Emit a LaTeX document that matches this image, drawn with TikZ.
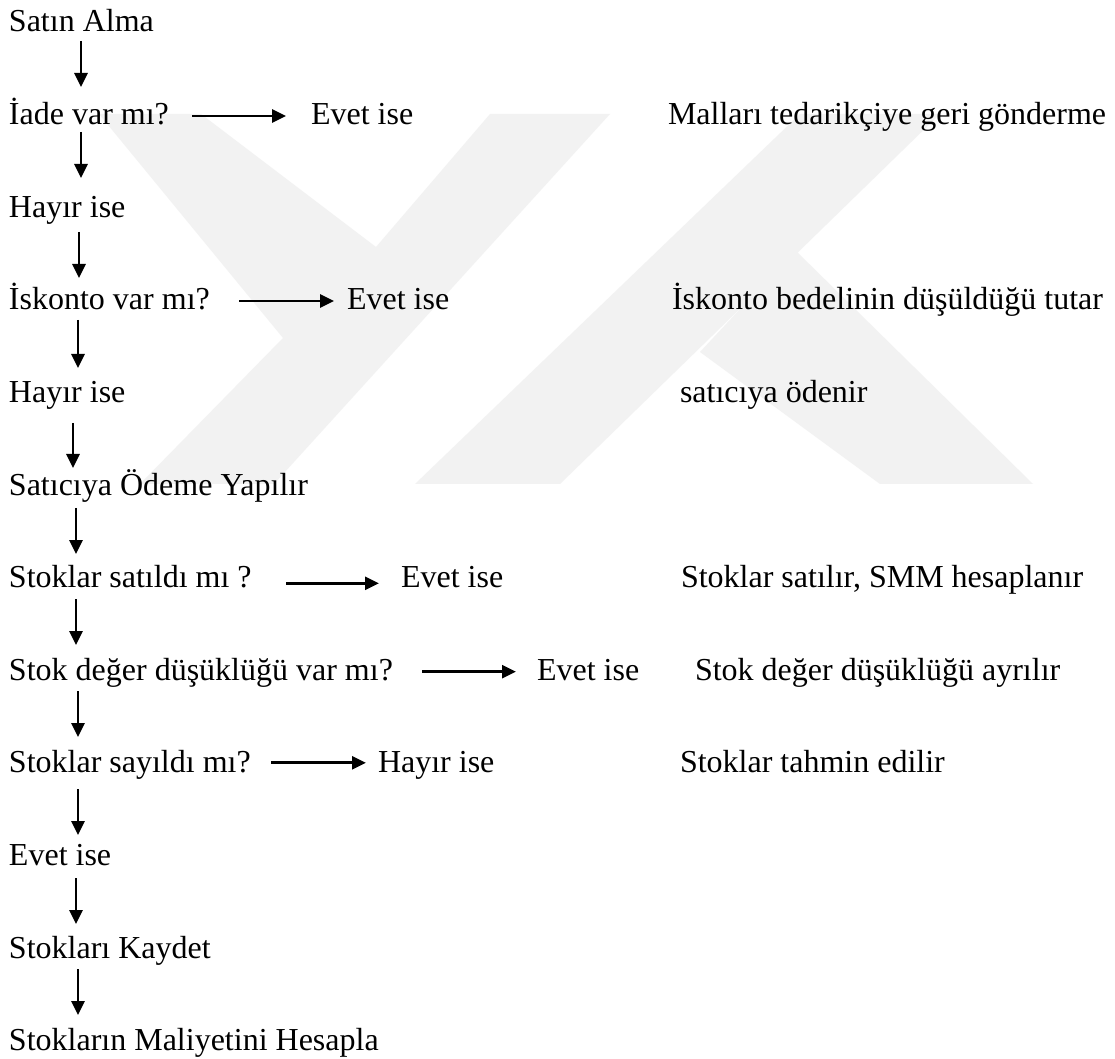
\documentclass[tikz,border=0pt]{standalone}
\usepackage{fontspec}
\setmainfont{Liberation Serif}
\usetikzlibrary{arrows.meta,calc}
\begin{document}
\begin{tikzpicture}[x=0.5pt,y=-0.5pt,
  txt/.style={anchor=base west,inner sep=0pt,outer sep=0pt,font=\fontsize{16pt}{19pt}\selectfont},
  arr/.style={line width=1.35pt,-{Triangle[length=7pt,width=6.5pt]}},
  wm/.style={fill=black!5,draw=none}]
\useasboundingbox (0,0) rectangle (1115,1059);
\fill[white] (0,0) rectangle (1115,1059);
% watermark
\fill[wm] (140,484) -- (283,338) -- (99,114) -- (201,114) -- (376,247) -- (490,114) -- (610,114) -- (274,484) -- cycle;
\fill[wm] (415,484) -- (560,484) -- (940,114) -- (800,114) -- cycle;
\fill[wm] (795,250) -- (1033,484) -- (880,484) -- (700,352) -- cycle;
% left column
\node[txt] (n0) at (9,32) {Satın Alma};
\node[txt] (n1) at (9,124.6) {İade var mı?};
\node[txt] (n2) at (9,217.2) {Hayır ise};
\node[txt] (n3) at (9,309.8) {İskonto var mı?};
\node[txt] (n4) at (9,402.4) {Hayır ise};
\node[txt] (n5) at (9,495) {Satıcıya Ödeme Yapılır};
\node[txt] (n6) at (9,587.6) {Stoklar satıldı mı ?};
\node[txt] (n7) at (9,680.2) {Stok değer düşüklüğü var mı?};
\node[txt] (n8) at (9,772.8) {Stoklar sayıldı mı?};
\node[txt] (n9) at (9,865.4) {Evet ise};
\node[txt] (n10) at (9,958) {Stokları Kaydet};
\node[txt] (n11) at (9,1050.6) {Stokların Maliyetini Hesapla};
% middle column
\node[txt] (e1) at (311,124.6) {Evet ise};
\node[txt] (e3) at (347,309.8) {Evet ise};
\node[txt] (e6) at (401,587.6) {Evet ise};
\node[txt] (e7) at (537,680.2) {Evet ise};
\node[txt] (e8) at (378,772.8) {Hayır ise};
% right column
\node[txt] (r1) at (668,124.6) {Malları tedarikçiye geri gönderme};
\node[txt] (r3) at (672,309.8) {İskonto bedelinin düşüldüğü tutar};
\node[txt] (r4) at (680,402.4) {satıcıya ödenir};
\node[txt] (r6) at (681,587.6) {Stoklar satılır, SMM hesaplanır};
\node[txt] (r7) at (695,680.2) {Stok değer düşüklüğü ayrılır};
\node[txt] (r8) at (680,772.8) {Stoklar tahmin edilir};
% vertical arrows
\draw[arr] ($(n0.base west)+(72,9)$) -- ($(n1.base west)+(72,-37.6)$);
\draw[arr] ($(n1.base west)+(72,7.4)$) -- ($(n2.base west)+(72,-39.2)$);
\draw[arr] ($(n2.base west)+(70,14.8)$) -- ($(n3.base west)+(70,-31.8)$);
\draw[arr] ($(n3.base west)+(69,10.2)$) -- ($(n4.base west)+(69,-34.4)$);
\draw[arr] ($(n4.base west)+(64,20.6)$) -- ($(n5.base west)+(64,-27)$);
\draw[arr] ($(n5.base west)+(67,13)$) -- ($(n6.base west)+(67,-33.6)$);
\draw[arr] ($(n6.base west)+(67,11.4)$) -- ($(n7.base west)+(67,-35.2)$);
\draw[arr] ($(n7.base west)+(69,10.8)$) -- ($(n8.base west)+(69,-35.8)$);
\draw[arr] ($(n8.base west)+(69,16.2)$) -- ($(n9.base west)+(69,-30.4)$);
\draw[arr] ($(n9.base west)+(67,12.6)$) -- ($(n10.base west)+(67,-34)$);
\draw[arr] ($(n10.base west)+(69,11)$) -- ($(n11.base west)+(69,-35.6)$);
% horizontal arrows
\draw[arr] ($(n1.base west)+(183,-8.6)$) -- ($(e1.base west)+(-25,-8.6)$);
\draw[arr] ($(n3.base west)+(230,-8.8)$) -- ($(e3.base west)+(-13,-8.8)$);
\draw[arr] ($(n6.base west)+(277,-4.3)$) -- ($(e6.base west)+(-22,-4.3)$);
\draw[arr] ($(n7.base west)+(413,-8.5)$) -- ($(e7.base west)+(-21,-8.5)$);
\draw[arr] ($(n8.base west)+(262,-10)$) -- ($(e8.base west)+(-12,-10)$);
\end{tikzpicture}
\end{document}
